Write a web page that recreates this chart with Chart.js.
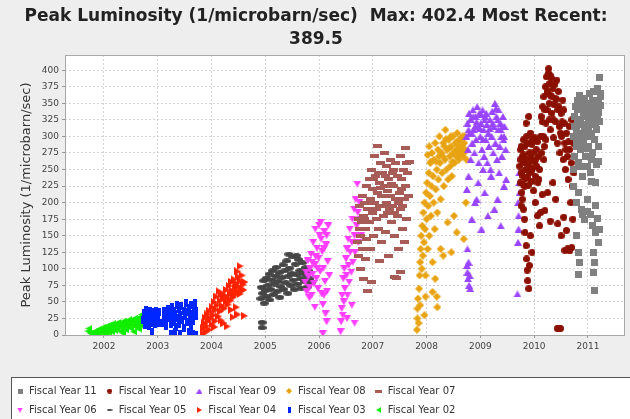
<!DOCTYPE html>
<html>
<head>
<meta charset="utf-8">
<title>Peak Luminosity</title>
<script src="https://cdn.jsdelivr.net/npm/chart.js@4.4.1/dist/chart.umd.min.js"></script>
<style>
  body { margin: 0; background: #eeeeee; }
  #lumi_chart { display: block; }
</style>
</head>
<body>
<canvas id="lumi_chart" width="630" height="419"></canvas>
<script>
// axis ticks
const yearTicks = [2002, 2003, 2004, 2005, 2006, 2007, 2008, 2009, 2010, 2011];
const lumiTicks = [0, 25, 50, 75, 100, 125, 150, 175, 200, 225, 250, 275, 300, 325, 350, 375, 400];

const seriesNames = ['Fiscal Year 11', 'Fiscal Year 10', 'Fiscal Year 09', 'Fiscal Year 08', 'Fiscal Year 07',
                     'Fiscal Year 06', 'Fiscal Year 05', 'Fiscal Year 04', 'Fiscal Year 03', 'Fiscal Year 02'];

// [year, peak luminosity]
const fy11 = [[2010.74,300],[2010.75,330],[2010.76,270],[2010.77,345],[2010.78,310],[2010.79,285],[2010.80,355],[2010.81,320],
  [2010.82,260],[2010.83,340],[2010.84,300],[2010.85,362],[2010.86,280],[2010.87,325],[2010.88,350],[2010.89,305],[2010.90,240],
  [2010.91,335],[2010.92,290],[2010.93,358],[2010.94,315],[2010.95,270],[2010.96,345],[2010.97,300],[2010.98,330],[2010.99,255],
  [2011.00,350],[2011.01,310],[2011.02,285],[2011.03,365],[2011.04,325],[2011.05,245],[2011.06,340],[2011.07,300],[2011.08,355],
  [2011.09,275],[2011.10,320],[2011.11,368],[2011.12,295],[2011.13,340],[2011.14,230],[2011.15,350],[2011.16,310],[2011.17,372],
  [2011.18,330],[2011.19,285],[2011.20,355],[2011.22,322],[2011.23,346],[2011.24,365],[2011.16,258],[2011.06,232],
  [2010.75,315],[2010.78,292],[2010.81,340],[2010.84,322],[2010.87,300],[2010.90,318],[2010.93,330],[2010.96,282],[2010.99,338],
  [2011.02,320],[2011.05,305],[2011.08,330],[2011.11,345],[2011.14,318],[2011.17,355],[2011.20,336],[2011.23,360],[2011.07,265],
  [2010.86,255],[2011.19,262],
  [2010.73,250],[2010.74,225],[2010.79,200],[2010.83,215],[2010.89,190],[2010.94,175],[2010.99,205],[2011.04,182],[2011.09,165],
  [2011.14,195],[2011.18,176],[2011.22,160],[2010.82,124],[2010.82,91],[2010.84,110],[2011.11,95],[2011.12,110],[2011.11,124],
  [2011.13,67],[2011.15,155],[2010.90,182],[2011.00,186],[2011.20,140],[2010.78,150],[2011.21,389.5]];

const fy10 = [[2009.73,255],[2009.74,230],[2009.75,280],[2009.76,245],[2009.77,215],[2009.78,270],[2009.79,240],[2009.80,295],
  [2009.81,260],[2009.82,225],[2009.83,285],[2009.84,250],[2009.85,320],[2009.86,265],[2009.87,238],[2009.88,290],[2009.89,255],
  [2009.90,330],[2009.91,275],[2009.92,245],[2009.93,305],[2009.94,268],[2009.95,232],[2009.96,288],[2009.97,252],[2009.98,275],
  [2009.99,218],[2010.00,262],[2010.01,298],[2010.02,240],[2010.04,280],[2010.05,255],[2010.07,230],[2010.08,270],[2010.10,250],
  [2009.74,265],[2009.76,285],[2009.79,228],[2009.81,272],[2009.84,236],[2009.86,300],[2009.89,226],[2009.92,262],[2009.95,248],
  [2009.97,296],[2010.03,265],[2010.06,292],[2010.09,235],
  [2010.12,300],[2010.13,330],[2010.14,275],[2010.16,345],[2010.17,300],[2010.18,360],[2010.19,285],[2010.21,375],[2010.22,320],
  [2010.23,390],[2010.24,340],[2010.25,365],[2010.26,395],[2010.27,402.4],[2010.28,350],[2010.29,380],[2010.30,310],[2010.31,362],
  [2010.32,388],[2010.33,335],[2010.35,372],[2010.36,298],[2010.37,348],[2010.38,378],[2010.40,322],[2010.41,356],[2010.43,290],
  [2010.44,340],[2010.45,368],[2010.47,315],[2010.48,275],[2010.50,335],[2010.51,300],[2010.53,355],[2010.54,265],[2010.56,320],
  [2010.57,290],[2010.58,250],[2010.15,322],[2010.18,265],[2010.20,340],[2010.22,295],[2010.24,368],[2010.28,325],[2010.30,392],
  [2010.33,360],[2010.36,325],[2010.39,358],[2010.42,385],[2010.46,345],[2010.49,305],[2010.52,322],[2010.55,340],
  [2010.60,305],[2010.62,270],[2010.63,235],[2010.65,315],[2010.66,280],[2010.68,200],[2010.69,260],[2010.59,280],[2010.64,292],
  [2010.70,325],[2010.71,225],[2010.72,175],[2010.73,290],[2010.74,245],
  [2009.78,205],[2009.80,190],[2009.82,175],[2009.83,155],[2009.85,135],[2009.86,115],[2009.87,98],[2009.88,82],[2009.90,70],
  [2009.91,105],[2009.93,150],[2009.96,125],[2010.02,200],[2010.06,180],[2010.10,165],[2010.15,212],[2010.20,188],[2010.30,172],
  [2010.35,230],[2010.40,205],[2010.44,168],[2010.50,150],[2010.55,178],[2010.60,158],[2010.62,130],[2010.57,128],[2010.66,127],
  [2010.70,132],[2010.43,10],[2010.46,10],[2010.49,10],[2009.76,195],[2010.12,185],[2010.25,215]];

const fy09 = [[2008.74,300],[2008.76,320],[2008.77,280],[2008.79,335],[2008.80,305],[2008.82,265],[2008.83,325],[2008.85,290],
  [2008.86,340],[2008.88,310],[2008.89,275],[2008.91,330],[2008.92,295],[2008.94,345],[2008.95,315],[2008.97,260],[2008.98,335],
  [2009.00,300],[2009.01,320],[2009.03,280],[2009.04,340],[2009.06,310],[2009.07,270],[2009.09,330],[2009.10,295],[2009.12,318],
  [2009.13,260],[2009.15,305],[2009.16,285],[2009.18,325],[2009.19,250],[2009.21,300],[2009.22,338],[2009.24,275],[2009.25,315],
  [2009.27,350],[2009.28,290],[2009.30,330],[2009.31,265],[2009.33,310],[2009.34,340],[2009.36,285],[2009.37,320],[2009.39,300],
  [2009.40,270],[2009.42,330],[2009.43,295],[2009.45,315],[2009.47,280],
  [2008.78,310],[2008.81,325],[2008.84,305],[2008.87,330],[2008.90,315],[2008.93,322],[2008.99,312],[2009.02,333],[2009.05,295],
  [2009.08,325],[2009.11,335],[2009.17,312],[2009.23,320],[2009.29,342],[2009.32,325],[2009.38,310],[2009.41,315],[2009.44,300],
  [2008.75,220],[2008.78,240],[2008.84,175],[2008.90,200],[2008.96,230],[2009.02,160],[2009.08,215],[2009.14,180],[2009.20,240],
  [2009.26,190],[2009.32,205],[2009.38,165],[2009.44,225],[2009.48,235],[2009.35,245],[2009.05,250],[2008.93,205],
  [2008.75,105],[2008.76,95],[2008.77,85],[2008.78,110],[2008.79,75],[2008.80,90],[2008.81,70],[2008.76,130],
  [2009.70,200],[2009.71,180],[2009.72,230],[2009.71,160],[2009.73,215],[2009.70,140],[2009.69,62],[2009.72,245]];

const fy08 = [[2007.82,8],[2007.83,25],[2007.83,40],[2007.84,55],[2007.85,18],[2007.86,70],[2007.87,90],[2007.88,110],[2007.88,45],
  [2007.89,130],[2007.90,150],[2007.91,100],[2007.92,165],[2007.93,120],[2007.94,185],[2007.95,140],[2007.96,200],[2007.97,160],
  [2007.98,90],[2007.99,215],[2008.00,175],[2008.01,230],[2008.02,130],[2008.03,195],[2008.04,245],[2008.05,150],[2008.06,210],
  [2008.07,260],[2008.08,180],[2008.09,225],[2008.10,275],[2008.11,110],[2008.12,240],[2008.13,200],[2008.14,265],[2008.15,160],
  [2008.16,290],[2008.17,220],[2008.19,250],[2008.20,185],[2008.21,280],[2008.22,235],[2008.24,300],[2008.25,260],[2008.26,205],
  [2008.28,275],[2008.29,245],[2008.31,290],[2008.32,225],[2008.34,265],[2008.35,310],[2008.37,250],[2008.38,280],[2008.40,235],
  [2008.41,295],[2008.43,270],[2008.44,255],[2008.46,285],[2008.47,240],[2008.49,300],[2008.50,275],[2008.52,260],[2008.54,290],
  [2008.55,270],[2008.57,305],[2008.58,280],[2008.60,265],[2008.62,295],[2008.63,275],[2008.65,285],[2008.67,300],[2008.68,270],
  [2008.70,290],[2008.72,280],[2008.74,265],[2008.02,272],[2008.05,285],[2008.08,262],
  [2008.30,270],[2008.33,285],[2008.36,296],[2008.42,282],[2008.45,300],[2008.48,262],[2008.53,278],[2008.56,292],[2008.59,285],
  [2008.61,272],[2008.64,298],[2008.66,280],[2008.69,275],[2008.71,300],[2008.23,270],[2008.18,262],
  [2007.98,58],[2008.16,85],[2008.11,65],[2008.26,130],[2008.31,120],[2008.46,125],[2008.56,155],[2008.69,145],[2008.73,200],
  [2008.51,180],[2008.39,170],[2008.20,42],[2007.96,30],[2008.19,58]];

const fy07 = [[2006.72,140],[2006.73,175],[2006.74,120],[2006.75,160],[2006.76,195],[2006.77,100],[2006.78,150],[2006.80,210],
  [2006.81,130],[2006.82,180],[2006.83,85],[2006.84,200],[2006.86,160],[2006.87,115],[2006.88,225],[2006.89,145],[2006.90,190],
  [2006.91,66],[2006.93,235],[2006.94,170],[2006.95,205],[2006.96,130],[2006.98,250],[2006.99,185],[2007.00,220],[2007.02,150],
  [2007.03,270],[2007.04,200],[2007.05,240],[2007.07,175],[2007.08,215],[2007.09,285],[2007.10,160],[2007.12,230],[2007.13,195],
  [2007.14,260],[2007.16,140],[2007.17,210],[2007.18,245],[2007.20,180],[2007.21,275],[2007.22,225],[2007.24,155],[2007.25,200],
  [2007.26,255],[2007.28,185],[2007.29,235],[2007.30,120],[2007.32,210],[2007.33,265],[2007.34,170],[2007.36,245],[2007.37,195],
  [2007.39,225],[2007.40,150],[2007.42,260],[2007.43,205],[2007.45,180],[2007.46,240],[2007.48,130],[2007.49,215],[2007.51,270],
  [2007.52,190],[2007.54,235],[2007.55,160],[2007.57,250],[2007.58,205],[2007.60,283],[2007.61,225],[2007.63,175],[2007.64,245],
  [2007.66,210],[2007.68,262],[2007.52,95],[2007.40,88],[2007.12,112],[2007.44,86],[2006.98,80],[2007.59,140],
  [2006.97,200],[2007.01,235],[2007.06,190],[2007.11,245],[2007.15,222],[2007.19,195],[2007.23,240],[2007.27,218],[2007.31,190],
  [2007.35,228],[2007.38,250],[2007.41,185],[2007.47,200],[2007.53,220],[2007.56,195],[2007.62,260],[2006.85,175],[2006.79,170]];

const fy06 = [[2005.74,80],[2005.76,95],[2005.77,65],[2005.79,112],[2005.80,88],[2005.82,72],[2005.83,100],[2005.85,122],[2005.86,60],
  [2005.88,92],[2005.89,140],[2005.90,78],[2005.92,106],[2005.93,160],[2005.95,85],[2005.96,131],[2005.98,70],[2005.99,116],
  [2006.01,150],[2006.02,96],[2006.03,170],[2006.05,62],[2006.06,126],[2006.07,46],[2006.08,101],[2006.10,156],[2006.11,81],
  [2006.12,32],[2006.13,136],[2006.15,66],[2006.16,111],[2006.17,165],[2006.19,90],[2006.07,2],[2006.14,20],[2005.92,42],
  [2005.82,56],[2006.00,166],[2006.09,60],[2005.87,110],[2005.94,118],[2006.04,145],[2006.09,130],[2005.97,100],[2006.14,150],
  [2006.40,5],[2006.41,20],[2006.42,40],[2006.43,60],[2006.44,30],[2006.45,85],[2006.46,50],[2006.47,100],[2006.48,70],
  [2006.50,115],[2006.51,90],[2006.52,130],[2006.53,60],[2006.54,145],[2006.55,105],[2006.56,80],[2006.57,160],[2006.58,125],
  [2006.60,95],[2006.61,140],[2006.62,175],[2006.63,110],[2006.65,190],[2006.66,150],[2006.67,125],[2006.68,205],[2006.70,165],
  [2006.71,228],[2006.72,185],[2006.73,140],[2006.61,45],[2006.52,25],[2006.66,18],[2006.75,200],[2006.77,175],[2006.78,150]];

const fy05 = [[2004.92,55],[2004.93,72],[2004.95,63],[2004.97,82],[2004.98,48],[2005.00,67],[2005.02,86],[2005.03,58],[2005.05,75],
  [2005.07,92],[2005.08,53],[2005.10,69],[2005.12,83],[2005.13,97],[2005.15,61],[2005.17,77],[2005.19,89],[2005.20,102],[2005.22,66],
  [2005.24,81],[2005.26,94],[2005.27,57],[2005.29,73],[2005.31,87],[2005.33,106],[2005.34,69],[2005.36,97],[2005.38,79],[2005.40,112],
  [2005.42,63],[2005.43,89],[2005.45,101],[2005.47,75],[2005.49,93],[2005.51,118],[2005.52,83],[2005.54,69],[2005.56,107],[2005.58,91],
  [2005.60,77],[2005.62,114],[2005.64,97],[2005.65,85],[2005.67,71],[2005.69,109],[2005.71,93],[2005.73,81],[2005.75,102],[2005.77,89],
  [2005.79,73],[2005.81,97],[2005.83,85],[2005.86,79],[2005.44,122],[2005.58,120],[2004.94,19],[2004.94,11]];

const fy04 = [[2003.85,2],[2003.86,10],[2003.87,18],[2003.89,26],[2003.90,5],[2003.91,14],[2003.93,31],[2003.94,21],[2003.96,8],
  [2003.97,36],[2003.99,25],[2004.01,16],[2004.02,42],[2004.04,30],[2004.05,50],[2004.07,21],[2004.08,38],[2004.10,58],[2004.11,45],
  [2004.13,28],[2004.14,66],[2004.16,52],[2004.17,36],[2004.19,62],[2004.20,44],[2004.22,55],[2004.24,40],[2004.25,60],[2004.27,50],
  [2004.28,68],[2004.30,56],[2004.31,46],[2004.33,74],[2004.35,62],[2004.36,52],[2004.38,80],[2004.39,67],[2004.41,57],[2004.42,84],
  [2004.44,72],[2004.45,61],[2004.47,78],[2004.48,66],[2004.50,88],[2004.51,73],[2004.53,62],[2004.54,82],[2004.56,70],[2004.57,90],
  [2004.59,76],[2004.60,68],[2004.62,80],[2004.53,104],[2004.49,96],
  [2004.06,12],[2004.18,22],[2004.29,13],[2004.40,27],[2004.49,31],[2004.61,29],[2004.37,38],[2004.23,18],[2004.46,42]];

const fy03 = [[2002.73,22],[2002.74,33],[2002.76,15],[2002.77,28],[2002.79,38],[2002.80,20],[2002.82,30],[2002.83,13],[2002.85,25],
  [2002.86,36],[2002.88,18],[2002.89,29],[2002.91,23],[2002.92,34],[2002.94,16],[2002.95,27],[2002.97,37],[2002.98,21],[2003.00,31],
  [2003.01,25],[2003.03,18],[2003.02,35],[2002.90,4],
  [2003.09,18],[2003.11,29],[2003.12,36],[2003.14,22],[2003.16,14],[2003.17,31],[2003.19,40],[2003.21,25],[2003.23,34],[2003.24,17],
  [2003.26,43],[2003.28,27],[2003.30,37],[2003.31,20],[2003.33,32],[2003.35,46],[2003.37,25],[2003.39,39],[2003.40,16],[2003.42,30],
  [2003.44,44],[2003.46,22],[2003.48,36],[2003.50,28],[2003.52,48],[2003.54,19],[2003.56,34],[2003.58,41],[2003.60,25],[2003.62,46],
  [2003.64,31],[2003.66,21],[2003.68,39],[2003.70,49],[2003.71,28],[2003.72,36],[2003.34,12],[2003.49,10],[2003.61,14],
  [2003.25,2],[2003.32,5],[2003.42,1],[2003.58,4],[2003.66,1],[2003.72,0]];

const fy02 = [[2001.70,6],[2001.72,10],[2001.74,3],[2001.78,2],[2001.82,5],[2001.85,1],[2001.87,7],[2001.90,3],[2001.92,9],
  [2001.95,4],[2001.97,11],[2002.00,6],[2002.02,2],[2002.04,13],[2002.06,8],[2002.08,4],[2002.10,15],[2002.12,10],[2002.14,5],
  [2002.16,17],[2002.18,12],[2002.20,7],[2002.22,16],[2002.24,9],[2002.26,19],[2002.28,13],[2002.30,6],[2002.32,18],[2002.34,11],
  [2002.36,21],[2002.38,15],[2002.40,8],[2002.42,20],[2002.44,13],[2002.46,23],[2002.48,17],[2002.50,10],[2002.52,22],[2002.54,15],
  [2002.56,25],[2002.58,19],[2002.60,12],[2002.62,24],[2002.64,17],[2002.66,27],[2002.68,21],[2002.70,14],[2002.72,26],[2002.74,19],
  [2002.76,29],[2002.55,5],[2002.65,9],[2002.35,3],[2002.70,31]];

const seriesData = [fy11, fy10, fy09, fy08, fy07, fy06, fy05, fy04, fy03, fy02];
const seriesColors = ['#808080', '#8b1000', '#9944ff', '#e8a313', '#a85c58', '#ff3cff', '#454545', '#ff2200', '#0026ff', '#11ee00'];

// marker shapes drawn into small canvases, used as point styles
function marker(shape, color, w, h) {
  const c = document.createElement('canvas');
  c.width = w;
  c.height = h;
  const g = c.getContext('2d');
  g.fillStyle = color;
  g.beginPath();
  if (shape === 'square') {
    g.rect(0, 0, w, h);
  } else if (shape === 'circle') {
    g.arc(w / 2, h / 2, w / 2, 0, Math.PI * 2);
  } else if (shape === 'up') {
    g.moveTo(w / 2, 0); g.lineTo(w, h); g.lineTo(0, h);
  } else if (shape === 'down') {
    g.moveTo(0, 0); g.lineTo(w, 0); g.lineTo(w / 2, h);
  } else if (shape === 'right') {
    g.moveTo(0, 0); g.lineTo(w, h / 2); g.lineTo(0, h);
  } else if (shape === 'left') {
    g.moveTo(w, 0); g.lineTo(0, h / 2); g.lineTo(w, h);
  } else if (shape === 'diamond') {
    g.moveTo(w / 2, 0); g.lineTo(w, h / 2); g.lineTo(w / 2, h); g.lineTo(0, h / 2);
  } else if (shape === 'ellipse') {
    g.ellipse(w / 2, h / 2, w / 2, h / 2, 0, 0, Math.PI * 2);
  }
  g.closePath();
  g.fill();
  return c;
}

const shapes = ['square', 'circle', 'up', 'diamond', 'square', 'down', 'ellipse', 'right', 'square', 'left'];
const plotSizes = [[7, 7], [7, 7], [8, 7], [8, 8], [9, 4], [8, 7], [9, 5], [7, 8], [4, 8], [7, 7]];
const legendSizes = [[5, 5], [5, 5], [6, 5], [6, 6], [7, 3], [6, 5], [6, 2], [5, 6], [3, 6], [5, 6]];

const plotMarks = shapes.map((s, i) => marker(s, seriesColors[i], plotSizes[i][0], plotSizes[i][1]));
const legendMarks = shapes.map((s, i) => marker(s, seriesColors[i], legendSizes[i][0], legendSizes[i][1]));

const datasets = seriesNames.map((name, i) => ({
  label: name,
  data: seriesData[i],
  pointStyle: plotMarks[i],
  pointRadius: 3,
  backgroundColor: seriesColors[i],
  borderColor: seriesColors[i],
  showLine: false
}));

// grey page, white plot area, framed legend
const frames = {
  id: 'frames',
  beforeDraw(chart) {
    const ctx = chart.ctx;
    const a = chart.chartArea;
    const lg = chart.legend;
    lg.top = 377;
    lg.bottom = 419;
    lg.right = lg.left + 520;   // five items per row
    ctx.save();
    ctx.fillStyle = '#eeeeee';
    ctx.fillRect(0, 0, chart.width, chart.height);
    ctx.fillStyle = '#ffffff';
    ctx.fillRect(a.left, a.top, a.right - a.left, a.bottom - a.top);
    ctx.fillRect(11, 377, chart.width - 11, chart.height - 377);
    ctx.strokeStyle = '#555555';
    ctx.lineWidth = 1;
    ctx.strokeRect(11.5, 377.5, chart.width, 60);
    ctx.restore();
  },
  afterDatasetsDraw(chart) {
    const ctx = chart.ctx;
    const a = chart.chartArea;
    ctx.save();
    ctx.strokeStyle = '#a8a8a8';
    ctx.lineWidth = 1;
    ctx.strokeRect(a.left + 0.5, a.top + 0.5, a.right - a.left - 1, a.bottom - a.top);
    ctx.restore();
  }
};

Chart.defaults.font.family = "'DejaVu Sans', sans-serif";
Chart.defaults.color = '#333333';

new Chart(document.getElementById('lumi_chart'), {
  type: 'scatter',
  data: { datasets: datasets },
  options: {
    responsive: false,
    animation: false,
    devicePixelRatio: 1,
    layout: { padding: { left: 7, right: 5, top: 0, bottom: 0 } },
    plugins: {
      tooltip: { enabled: false },
      title: {
        display: true,
        text: ['Peak Luminosity (1/microbarn/sec)  Max: 402.4 Most Recent:', '389.5'],
        color: '#222222',
        font: { size: 17, weight: 'bold', lineHeight: '23px' },
        padding: { top: 5.5, bottom: 3.5 }
      },
      legend: {
        position: 'bottom',
        align: 'start',
        labels: {
          usePointStyle: true,
          boxWidth: 8,
          padding: 9,
          color: '#333333',
          font: { size: 10 },
          generateLabels: chart => Chart.defaults.plugins.legend.labels.generateLabels(chart)
            .map((item, i) => Object.assign(item, { pointStyle: legendMarks[i] }))
        }
      }
    },
    scales: {
      x: {
        type: 'linear',
        min: 2001.275,
        max: 2011.69,
        afterBuildTicks: scale => { scale.ticks = yearTicks.map(v => ({ value: v })); },
        afterFit: scale => { scale.height = 36; },
        ticks: { font: { size: 9 }, color: '#444444', padding: 3, maxRotation: 0, callback: v => String(v) },
        grid: { color: '#d4d4d4', tickColor: '#999999', tickLength: 3 },
        border: { display: false, dash: [2, 2] }
      },
      y: {
        min: 0,
        max: 423,
        afterBuildTicks: scale => { scale.ticks = lumiTicks.map(v => ({ value: v })); },
        afterFit: scale => { scale.width = 58; },
        ticks: { font: { size: 9 }, color: '#444444', padding: 3, callback: v => String(v) },
        grid: { color: '#d4d4d4', tickColor: '#999999', tickLength: 3 },
        border: { display: false, dash: [2, 2] },
        title: {
          display: true,
          text: 'Peak Luminosity (1/microbarn/sec)',
          color: '#333333',
          font: { size: 13 },
          padding: { top: 12, bottom: 0 }
        }
      }
    }
  },
  plugins: [frames]
});
</script>
</body>
</html>
